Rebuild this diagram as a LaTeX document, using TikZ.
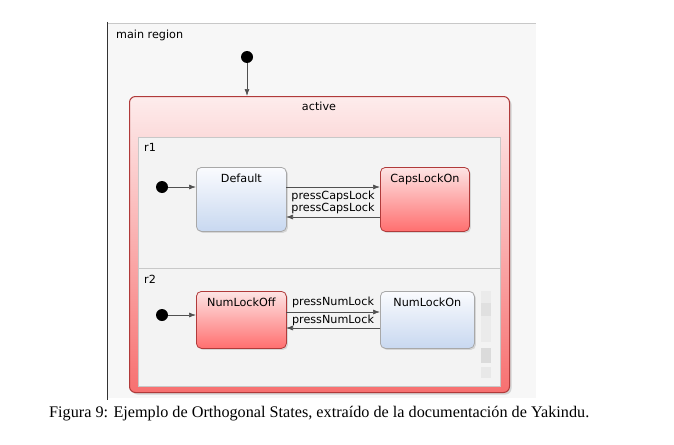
\documentclass[tikz,border=0pt]{standalone}
\usepackage{fontspec}
\setmainfont{Liberation Serif}
\newfontfamily\diafont{DejaVu Sans}
\usetikzlibrary{arrows.meta,shadows}
\definecolor{canvasbg}{HTML}{F7F7F7}
\definecolor{regionbg}{HTML}{F3F3F3}
\definecolor{regionline}{HTML}{C8C8C8}
\definecolor{redtop}{HTML}{FDE4E4}
\definecolor{redbot}{HTML}{FF6F6F}
\definecolor{redline}{HTML}{B03A3A}
\definecolor{bluetop}{HTML}{FAFBFE}
\definecolor{bluebot}{HTML}{C8D8F0}
\definecolor{blueline}{HTML}{A8A8A8}
\definecolor{arrowcol}{HTML}{505050}
\definecolor{activetop}{HTML}{FDECEC}
\definecolor{activebot}{HTML}{F77070}
\tikzset{
  lbl/.style={font=\diafont\fontsize{11.2}{13}\selectfont, inner sep=0pt},
  redstate/.style={rectangle, rounded corners=5pt, draw=redline, line width=0.8pt,
     top color=redtop, bottom color=redbot, anchor=north west,
     drop shadow={opacity=0.25, shadow xshift=1.5pt, shadow yshift=-1.5pt}},
  bluestate/.style={rectangle, rounded corners=5pt, draw=blueline, line width=0.8pt,
     top color=bluetop, bottom color=bluebot, anchor=north west,
     drop shadow={opacity=0.25, shadow xshift=1.5pt, shadow yshift=-1.5pt}},
  initdot/.style={circle, fill=black, minimum size=12pt, inner sep=0pt},
  trans/.style={draw=arrowcol, line width=0.7pt, -{Latex[length=7pt,width=5pt]}},
  regionbox/.style={rectangle, draw=regionline, fill=regionbg, line width=0.6pt, anchor=north west, inner sep=0pt},
}
\begin{document}
\begin{tikzpicture}[x=1pt,y=-1pt]
\useasboundingbox (0,0) rectangle (674,444);
\fill[white] (0,0) rectangle (674,444);
% canvas
\fill[canvasbg] (108,23) rectangle (536,398);
\draw[regionline, line width=0.8pt] (108,23) -- (536,23);
\draw[black!80, line width=1pt] (107,22) -- (107,400);
\node[lbl, anchor=north west] (mainlbl) at (116,30) {main region};
% active
\node[rectangle, rounded corners=6pt, draw=redline, line width=1pt,
  top color=activetop, bottom color=activebot, anchor=north west,
  minimum width=380pt, minimum height=296pt,
  drop shadow={opacity=0.3, shadow xshift=2pt, shadow yshift=-2pt}] (active) at (129,96) {};
\node[lbl] (activelbl) at (319,106) {active};
% regions
\node[regionbox, minimum width=362pt, minimum height=131pt] (r1) at (138,137) {};
\node[regionbox, minimum width=362pt, minimum height=118pt] (r2) at (138,268) {};
\node[lbl, anchor=north west] (r1lbl) at (144,143) {r1};
\node[lbl, anchor=north west] (r2lbl) at (144,275) {r2};
% initial main
\node[initdot] (i0) at (247,57) {};
\draw[trans] (i0) -- (i0 |- active.north);
% r1 states
\node[bluestate, minimum width=90pt, minimum height=64pt,
  label={[lbl, anchor=north, yshift=-7pt]north:Default}] (def) at (196,167) {};
\node[redstate, minimum width=89pt, minimum height=64pt,
  label={[lbl, anchor=north, yshift=-7pt]north:CapsLockOn}] (caps) at (380,167) {};
\node[initdot] (i1) at (162,187) {};
\draw[trans] (i1) -- (i1 -| def.west);
\coordinate (c1) at (286,187);
\coordinate (c2) at (286,217);
\draw[trans] (c1) -- (c1 -| caps.west) node[lbl, midway, below=4pt] {pressCapsLock};
\draw[trans] (caps.west |- c2) -- (c2) node[lbl, midway, above=3pt] {pressCapsLock};
% r2 states
\node[redstate, minimum width=90pt, minimum height=57pt,
  label={[lbl, anchor=north, yshift=-7pt]north:NumLockOff}] (noff) at (196,291) {};
\node[bluestate, minimum width=94pt, minimum height=57pt,
  label={[lbl, anchor=north, yshift=-7pt]north:NumLockOn}] (non) at (380,291) {};
\node[initdot] (i2) at (162,315) {};
\draw[trans] (i2) -- (i2 -| noff.west);
\coordinate (c3) at (286,312);
\coordinate (c4) at (286,328);
\draw[trans] (c3) -- (c3 -| non.west) node[lbl, midway, above=4pt] {pressNumLock};
\draw[trans] (non.west |- c4) -- (c4) node[lbl, midway, above=2pt] {pressNumLock};
% scrollbar
\fill[black!8] (481,291) rectangle (491,303);
\fill[black!12] (481,303) rectangle (491,316);
\fill[black!8] (481,316) rectangle (491,342);
\fill[black!14] (481,348) rectangle (491,363);
\fill[black!9] (481,367) rectangle (491,378);
% caption
\node[font=\fontsize{16.2}{19}\selectfont, anchor=west, inner sep=0pt] (cap) at (49,414) {Figura 9: Ejemplo de Orthogonal States, extraído de la documentación de Yakindu.};
\end{tikzpicture}
\end{document}
